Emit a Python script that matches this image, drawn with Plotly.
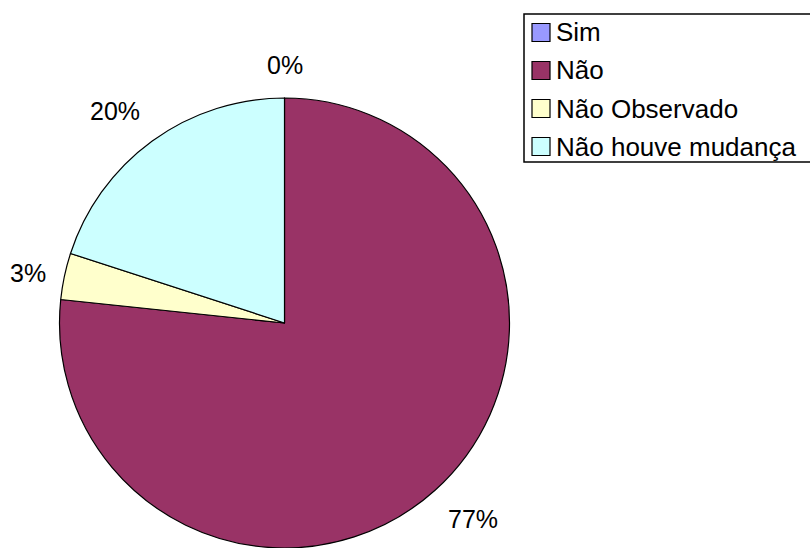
import math
import plotly.graph_objects as go

# Survey answers and their slice colours
labels = ["Sim", "Não", "Não Observado", "Não houve mudança"]
counts = [0, 23, 1, 6]
colors = ["#9999FF", "#993366", "#FFFFCC", "#CCFFFF"]

W, H = 810, 548
FONT = "Liberation Sans, Arial, sans-serif"
LABEL_SIZE = 25
LEGEND_SIZE = 26

# pie geometry in pixels
cx, cy, r = 284.5, 323.0, 225.0


def px(x):
    return x / W


def py(y):
    return 1 - y / H


fig = go.Figure(
    go.Pie(
        labels=labels,
        values=counts,
        sort=False,
        direction="clockwise",
        rotation=0,
        marker=dict(colors=colors, line=dict(color="#000000", width=1.2)),
        textinfo="none",
        hoverinfo="label+percent",
        showlegend=False,
        domain=dict(x=[px(cx - r), px(cx + r)], y=[py(cy + r), py(cy - r)]),
    )
)

# percentage labels placed just outside each slice's mid-angle
total = sum(counts)
annotations = []
start = 0.0
for lab, v in zip(labels, counts):
    frac = v / total
    mid = (start + frac / 2) * 2 * math.pi
    start += frac
    s, c = math.sin(mid), math.cos(mid)
    d = r + 17
    x = cx + s * d
    y = cy - c * d
    xa = "left" if s > 0.1 else ("right" if s < -0.1 else "center")
    ya = "bottom" if c > 0.3 else ("top" if c < -0.3 else "middle")
    annotations.append(
        dict(
            x=px(x), y=py(y), xref="paper", yref="paper",
            text=f"{round(frac * 100)}%", showarrow=False,
            xanchor=xa, yanchor=ya,
            font=dict(family=FONT, size=LABEL_SIZE, color="#000000"),
        )
    )

# legend box with swatches
shapes = [
    dict(type="rect", xref="paper", yref="paper",
         x0=px(524), x1=px(W + 5), y0=py(162), y1=py(14),
         line=dict(color="#000000", width=1.5), fillcolor="rgba(0,0,0,0)")
]
row0, step, sw = 32.5, 38.0, 18.0
for i, (lab, col) in enumerate(zip(labels, colors)):
    yc = row0 + i * step
    shapes.append(
        dict(type="rect", xref="paper", yref="paper",
             x0=px(532), x1=px(532 + sw), y0=py(yc + sw / 2), y1=py(yc - sw / 2),
             line=dict(color="#000000", width=1.2), fillcolor=col)
    )
    annotations.append(
        dict(x=px(554), y=py(yc), xref="paper", yref="paper",
             text=lab, showarrow=False, xanchor="left", yanchor="middle",
             font=dict(family=FONT, size=LEGEND_SIZE, color="#000000"))
    )

fig.update_layout(
    width=W, height=H,
    margin=dict(l=0, r=0, t=0, b=0),
    paper_bgcolor="#FFFFFF",
    plot_bgcolor="#FFFFFF",
    annotations=annotations,
    shapes=shapes,
)

fig.write_html("out.html")
